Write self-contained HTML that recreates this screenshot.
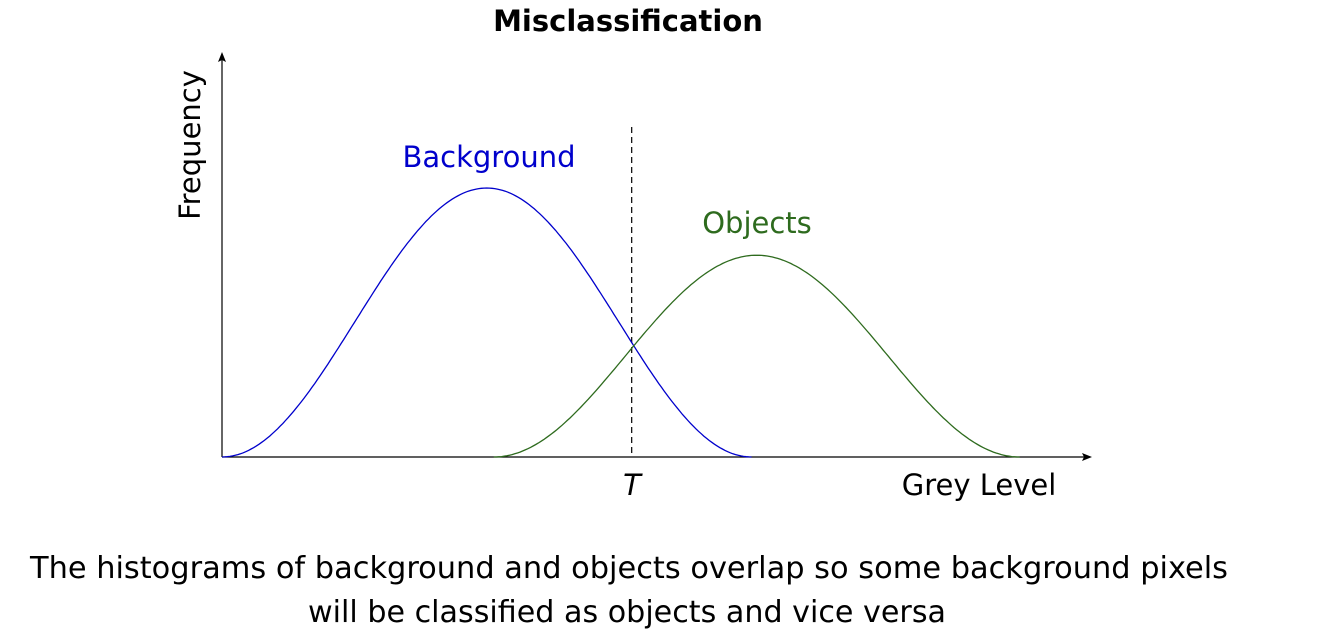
<!DOCTYPE html>
<html><head><meta charset="utf-8"><style>
body{margin:0;background:#fff;width:1320px;height:640px;overflow:hidden;font-family:"DejaVu Sans","Liberation Sans",sans-serif}
svg{position:absolute;left:0;top:0}
</style></head><body>
<svg width="1320" height="640">
<text x="628" y="31" text-anchor="middle" font-size="29" font-weight="bold" fill="#000">Misclassification</text>
<g id="axes"></g>
<g id="series"></g>
<text x="200" y="145" transform="rotate(-90 200 145)" text-anchor="middle" font-size="29" fill="#000">Frequency</text>
<text x="979" y="495" text-anchor="middle" font-size="29" fill="#000">Grey Level</text>
<text x="632" y="495" text-anchor="middle" font-size="29" font-style="italic" fill="#000">T</text>
<text x="489" y="167" text-anchor="middle" font-size="29" fill="#0000cc">Background</text>
<text x="757" y="233" text-anchor="middle" font-size="29" fill="#2e6b1e">Objects</text>
<text x="30" y="578" textLength="1198" lengthAdjust="spacingAndGlyphs" font-size="30" fill="#000">The histograms of background and objects overlap so some background pixels</text>
<text x="308" y="622" textLength="638" lengthAdjust="spacingAndGlyphs" font-size="30" fill="#000">will be classified as objects and vice versa</text>
</svg>
<script>
const seriesNames = ["background","objects"];
const seriesColors = ["#0000cc","#2e6b1e"];
const seriesCenters = [30.5, 61.6];
const seriesHalfWidths = [30.5, 30.3];
const seriesPeaks = [100, 75];
const thresholdValue = [47.2];
const X0=222,XW=868,Y0=457,YH=269;
const xs=v=>X0+v/100*XW, ys=v=>Y0-v/100*YH;
const NS="http://www.w3.org/2000/svg";
const ax=document.getElementById('axes'), sg=document.getElementById('series');
function mk(tag,attrs,parent){const e=document.createElementNS(NS,tag);for(const k in attrs)e.setAttribute(k,attrs[k]);parent.appendChild(e);return e;}
let e=mk('line',{x1:X0,y1:Y0,x2:1086,y2:Y0,stroke:'#000','stroke-width':1.2},ax);


e=mk('path',{d:'M1092 457 L1082 453 L1084 457 L1082 461 Z',fill:'#000'},ax);


e=mk('line',{x1:X0,y1:Y0,x2:X0,y2:58,stroke:'#000','stroke-width':1.2},ax);


e=mk('path',{d:'M222 52 L218 62 L222 60 L226 62 Z',fill:'#000'},ax);


e=mk('line',{x1:xs(thresholdValue[0]),y1:127,x2:xs(thresholdValue[0]),y2:Y0,stroke:'#000','stroke-width':1.2,'stroke-dasharray':'6,4'},ax);


seriesNames.forEach((n,i)=>{
  const c=seriesCenters[i],w=seriesHalfWidths[i],p=seriesPeaks[i];
  let d='';
  for(let k=0;k<=200;k++){
    const v=c-w+2*w*k/200;
    const y=p*(1+Math.cos(Math.PI*(v-c)/w))/2;
    d+=(k?'L':'M')+xs(v).toFixed(1)+' '+ys(y).toFixed(1);
  }
  const el=mk('path',{d:d,fill:'none',stroke:seriesColors[i],'stroke-width':1.3},sg);
  
  
});
</script>
</body></html>
